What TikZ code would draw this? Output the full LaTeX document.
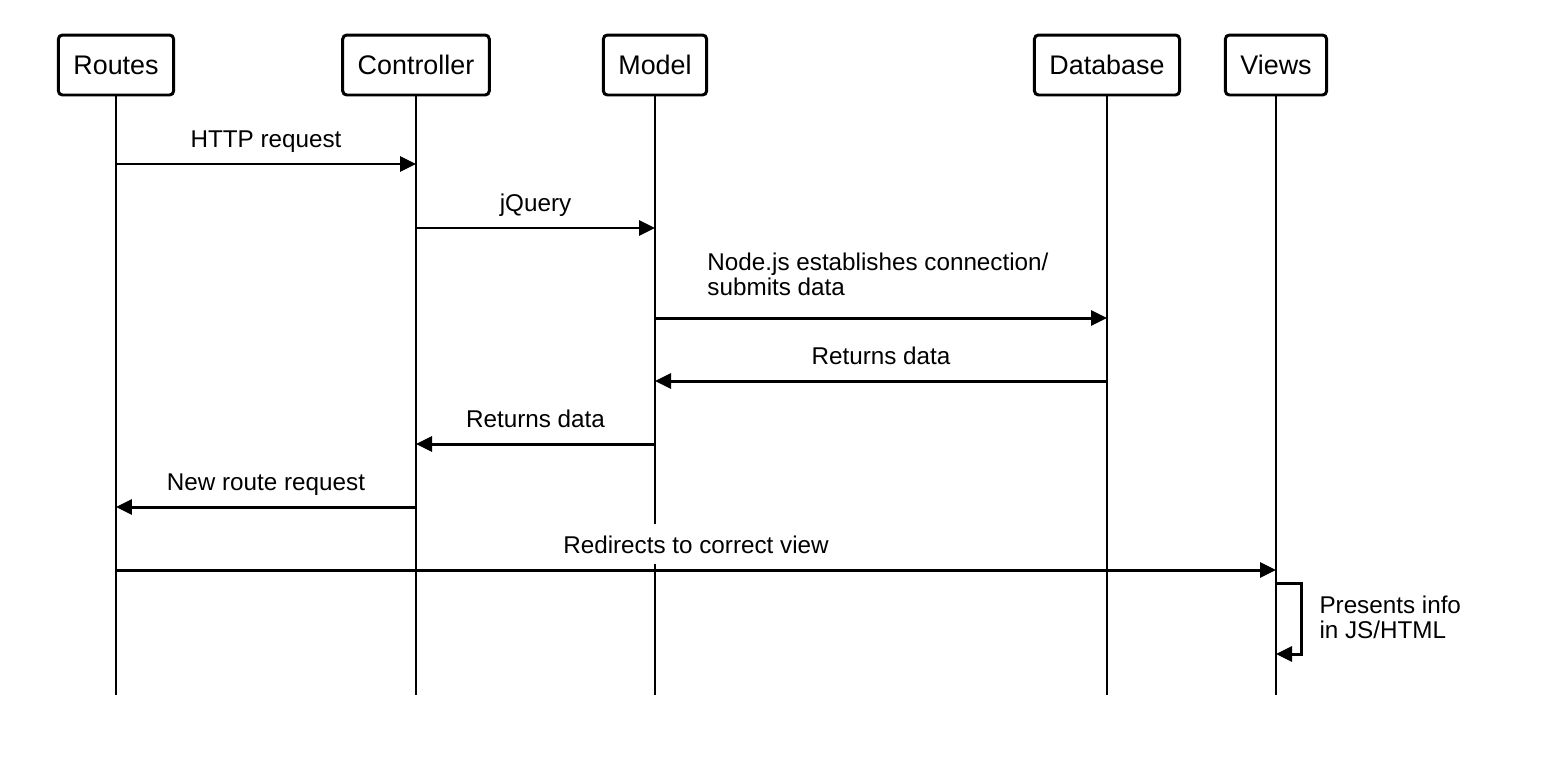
\documentclass[tikz,border=0pt]{standalone}
\usepackage{fontspec}
\setmainfont{Liberation Sans}
\usetikzlibrary{arrows.meta}
\tikzset{
  head/.style={draw,rounded corners=0.08cm,line width=1.7pt,inner xsep=0.3cm,minimum height=1.2cm,text depth=-0.06cm,font=\fontsize{15.3}{18}\selectfont},
  life/.style={line width=1.6pt},
  msg/.style={line width=1.7pt,-{Triangle[length=0.32cm,width=0.3cm]}},
  lbl/.style={anchor=base,yshift=0.34cm,inner sep=1pt,font=\fontsize{13.8}{14.2}\selectfont},
  note/.style={anchor=south west,inner sep=0pt,align=left,font=\fontsize{13.8}{14.2}\selectfont},
}
\begin{document}
\begin{tikzpicture}[x=0.02cm,y=-0.02cm]
\useasboundingbox (0,0) rectangle (1562,758);
\node[head] (routes) at (116,65) {Routes};
\node[head] (controller) at (416,65) {Controller};
\node[head] (model) at (655,65) {Model};
\node[head] (database) at (1107,65) {Database};
\node[head] (views) at (1276,65) {Views};
\coordinate (bottom) at (0,695);
\foreach \n in {routes,controller,model,database,views}
  \draw[life] (\n.south) -- (\n |- bottom);
\coordinate (http) at (0,164);
\coordinate (jq) at (0,228);
\coordinate (conn) at (0,318);
\coordinate (back1) at (0,381);
\coordinate (back2) at (0,444);
\coordinate (newroute) at (0,507);
\coordinate (redir) at (0,570);
\coordinate (loopa) at (0,583);
\coordinate (loopb) at (0,654);
\draw[msg] (routes |- http) -- node[lbl] {HTTP request} (controller |- http);
\draw[msg] (controller |- jq) -- node[lbl] {jQuery} (model |- jq);
\draw[msg] (model |- conn) -- node[note,at start,xshift=1.02cm,yshift=0.42cm] {Node.js establishes connection/\\submits data} (database |- conn);
\draw[msg] (database |- back1) -- node[lbl] {Returns data} (model |- back1);
\draw[msg] (model |- back2) -- node[lbl] {Returns data} (controller |- back2);
\draw[msg] (controller |- newroute) -- node[lbl] {New route request} (routes |- newroute);
\draw[msg] (routes |- redir) -- node[lbl,fill=white,inner xsep=2pt,inner ysep=0.22cm] {Redirects to correct view} (views |- redir);
\draw[msg] (views |- loopa) -- ++(25,0) |- node[note,pos=0.5,xshift=0.34cm,yshift=0.28cm] {Presents info\\in JS/HTML} (views |- loopb);
\end{tikzpicture}
\end{document}
